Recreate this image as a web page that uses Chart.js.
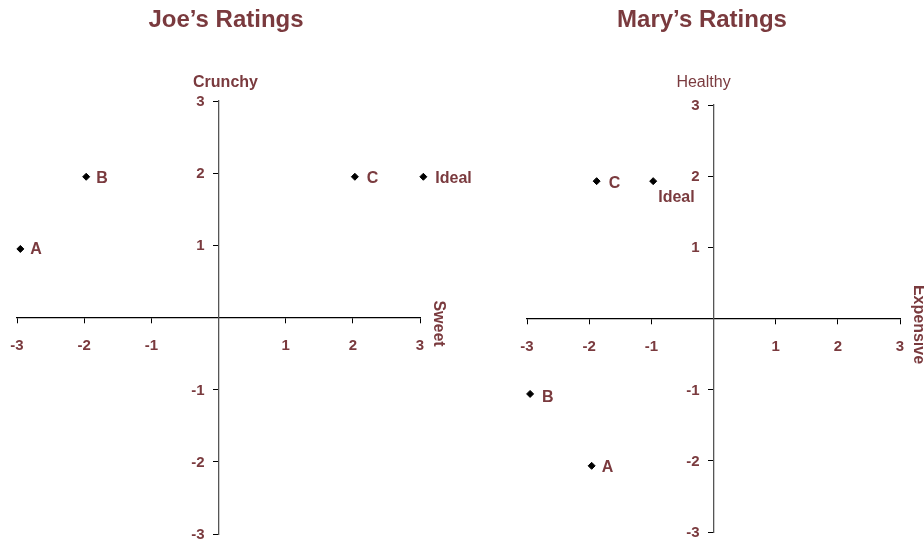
<!DOCTYPE html>
<html>
<head>
<meta charset="utf-8">
<script src="https://cdn.jsdelivr.net/npm/chart.js@4/dist/chart.umd.min.js"></script>
<style>
  body { margin: 0; background: #fff; overflow: hidden; }
  .box { position: absolute; top: 0; height: 542px; }
</style>
</head>
<body>
<div class="box" style="left:0; width:500px"><canvas id="joeChart"></canvas></div>
<div class="box" style="left:462px; width:462px"><canvas id="maryChart"></canvas></div>
<script>
// 데이터
const tickValues = [-3, -2, -1, 0, 1, 2, 3];

const joeNames = ['A', 'B', 'C', 'Ideal'];
const joeSweet = [-2.95, -1.97, 2.03, 3.05];
const joeCrunchy = [0.95, 1.95, 1.95, 1.95];

const maryNames = ['A', 'B', 'C', 'Ideal'];
const maryExpensive = [-1.96, -2.95, -1.88, -0.97];
const maryHealthy = [-2.07, -1.06, 1.93, 1.93];

const maroon = '#7a3a3e';
const fontFamily = '"Liberation Sans", Arial, sans-serif';

// 제목, 축 이름, 세로축 눈금 라벨, 점 라벨 그리기
const textPlugin = {
    id: 'textPlugin',
    afterDraw(chart, args, opts) {
        const ctx = chart.ctx;
        const xs = chart.scales.x;
        const ys = chart.scales.y;
        const x0 = xs.getPixelForValue(0);
        const y0 = ys.getPixelForValue(0);
        ctx.save();
        ctx.fillStyle = maroon;

        // 제목
        ctx.font = 'bold 24px ' + fontFamily;
        ctx.textAlign = 'center';
        ctx.textBaseline = 'middle';
        ctx.fillText(opts.title, opts.titleX, 20);

        // 세로축 이름
        ctx.font = (opts.yBold ? 'bold ' : '') + '16px ' + fontFamily;
        ctx.fillText(opts.yName, x0 + opts.yNameShift, 83);

        // 세로축 눈금 라벨 (0 제외)
        ctx.font = 'bold 15px ' + fontFamily;
        ctx.textAlign = 'right';
        ys.ticks.forEach(t => {
            if (t.value === 0) return;
            ctx.fillText(String(t.value), x0 - 14, ys.getPixelForValue(t.value) + 1);
        });

        // 가로축 이름 (세로로 회전)
        ctx.font = 'bold 16px ' + fontFamily;
        ctx.textAlign = 'center';
        ctx.translate(xs.right + 18, y0 + 6);
        ctx.rotate(Math.PI / 2);
        ctx.fillText(opts.xName, 0, 0);
        ctx.setTransform(1, 0, 0, 1, 0, 0);

        // 점 라벨
        ctx.font = 'bold 16px ' + fontFamily;
        ctx.textAlign = 'left';
        const meta = chart.getDatasetMeta(0);
        meta.data.forEach((pt, i) => {
            const off = opts.labelOffsets[i] || [10, 2];
            ctx.fillText(opts.names[i], pt.x + off[0], pt.y + off[1]);
        });
        ctx.restore();
    }
};

function makeChart(id, names, xs, ys, pad, text) {
    const points = xs.map((x, i) => ({ x: x, y: ys[i] }));
    const axisBase = {
        type: 'linear',
        min: -3,
        max: 3,
        afterTickToLabelConversion(scale) {
            scale.ticks = tickValues.map(v => ({ value: v, label: v === 0 ? '' : String(v) }));
        },
        grid: { drawOnChartArea: false, drawTicks: true, tickLength: 5, tickColor: '#000' }
    };
    return new Chart(document.getElementById(id), {
        type: 'scatter',
        data: {
            datasets: [{
                data: points,
                backgroundColor: '#000',
                borderColor: '#000',
                pointStyle: 'rectRot',
                pointRadius: 3.5,
                pointHoverRadius: 3.5,
                clip: false
            }]
        },
        options: {
            responsive: true,
            maintainAspectRatio: false,
            animation: false,
            layout: { padding: pad },
            plugins: {
                legend: { display: false },
                tooltip: { enabled: false },
                textPlugin: text
            },
            scales: {
                x: Object.assign({}, axisBase, {
                    position: { y: 0 },
                    border: { color: '#000', width: 1.3 },
                    ticks: {
                        color: maroon,
                        padding: 14,
                        maxRotation: 0,
                        font: { family: fontFamily, size: 15, weight: 'bold' }
                    },
                    afterFit(scale) {
                        scale.height = 0;
                        scale.paddingLeft = 0;
                        scale.paddingRight = 0;
                    }
                }),
                y: Object.assign({}, axisBase, {
                    position: { x: 0 },
                    border: { color: '#555', width: 1.3 },
                    ticks: { display: false },
                    afterFit(scale) { scale.width = 0; }
                })
            }
        },
        plugins: [textPlugin]
    });
}

makeChart('joeChart', joeNames, joeSweet, joeCrunchy,
    { left: 17, right: 80, top: 101, bottom: 8 },
    {
        title: 'Joe\u2019s Ratings', titleX: 226,
        yName: 'Crunchy', yBold: true, yNameShift: 7,
        xName: 'Sweet',
        names: joeNames,
        labelOffsets: [[10, 1], [10, 2], [12, 2], [12, 2]]
    });

makeChart('maryChart', maryNames, maryExpensive, maryHealthy,
    { left: 65, right: 24, top: 105, bottom: 10 },
    {
        title: 'Mary\u2019s Ratings', titleX: 240,
        yName: 'Healthy', yBold: false, yNameShift: -10,
        xName: 'Expensive',
        names: maryNames,
        labelOffsets: [[10, 2], [12, 4], [12, 2], [5, 16]]
    });
</script>
</body>
</html>
